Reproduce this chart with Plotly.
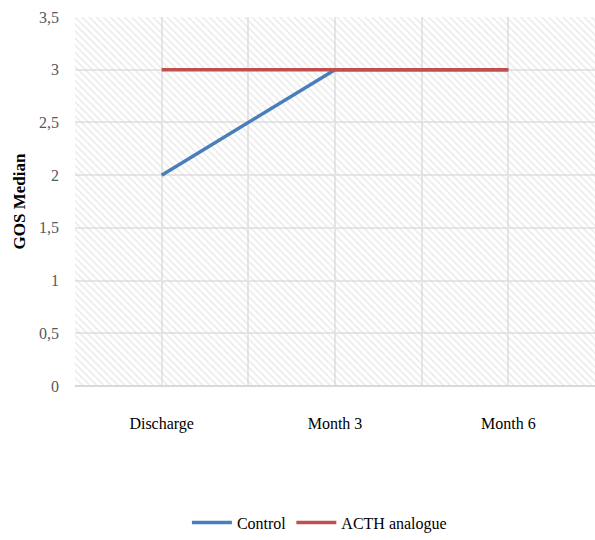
import plotly.graph_objects as go

categories = ["Discharge", "Month 3", "Month 6"]
control = [2, 3, 3]
acth = [3, 3, 3]
y_ticks = [0, 0.5, 1, 1.5, 2, 2.5, 3, 3.5]

x_range = [-0.5, len(categories) - 0.5]
y_range = [0, 3.5]
xs = list(range(len(categories)))

FONT = "Liberation Serif"

fig = go.Figure()

# hatched plot background
fig.add_trace(go.Scatter(
    x=[x_range[0], x_range[1], x_range[1], x_range[0], x_range[0]],
    y=[y_range[0], y_range[0], y_range[1], y_range[1], y_range[0]],
    mode="lines", fill="toself", line=dict(width=0),
    fillcolor="rgba(0,0,0,0)",
    fillpattern=dict(shape="\\", size=5, solidity=0.3,
                     fgcolor="#d6d6d6", bgcolor="rgba(0,0,0,0)"),
    showlegend=False, hoverinfo="skip"))

fig.add_trace(go.Scatter(x=xs, y=control, mode="lines", name="Control",
                         line=dict(color="#4a7ebb", width=3.5)))
fig.add_trace(go.Scatter(x=xs, y=acth, mode="lines", name="ACTH analogue",
                         line=dict(color="#c0504d", width=3.5)))

fig.update_layout(
    width=595, height=540,
    margin=dict(l=75, r=0, t=17, b=152),
    paper_bgcolor="white", plot_bgcolor="white",
    separators=", ",
    font=dict(family=FONT, size=14, color="black"),
    showlegend=True,
    legend=dict(orientation="h", x=0.47, xanchor="center", y=-0.37, yanchor="middle",
                font=dict(family=FONT, size=16, color="black"),
                itemwidth=40, tracegroupgap=0),
    xaxis=dict(range=x_range, tickmode="array", tickvals=xs, ticktext=categories,
               showgrid=True, gridcolor="#e6e6e6", gridwidth=1.5,
               minor=dict(tickmode="linear", tick0=0.5, dtick=1, showgrid=True,
                          gridcolor="#e6e6e6", gridwidth=1.5),
               zeroline=False, showline=False, ticks="",
               tickfont=dict(family=FONT, size=16, color="black"),
               ticklabelstandoff=26, fixedrange=True),
    yaxis=dict(range=y_range, tickmode="array", tickvals=y_ticks,
               showgrid=True, gridcolor="#e6e6e6", gridwidth=1.5,
               zeroline=True, zerolinecolor="#d9d9d9", zerolinewidth=1.5,
               showline=False, ticks="",
               tickfont=dict(family=FONT, size=16, color="#595959"),
               ticklabelstandoff=15,
               title=dict(text="<b>GOS Median</b>", standoff=9,
                          font=dict(family=FONT, size=17, color="black")),
               fixedrange=True),
)

fig.write_html("out.html", config={"displayModeBar": False},
               post_script="document.body.style.margin='0';document.body.style.overflow='hidden';")
